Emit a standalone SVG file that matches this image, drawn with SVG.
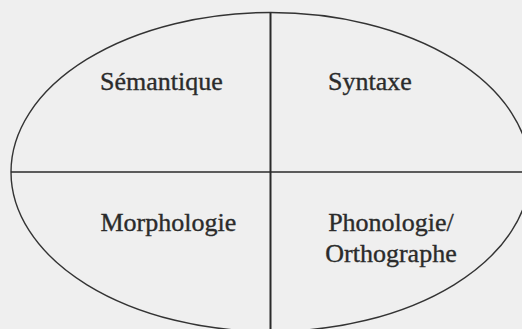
<svg xmlns="http://www.w3.org/2000/svg" width="522" height="329" viewBox="0 0 522 329">
  <style>
    .bg { fill: #efefef; }
    .outline { fill: none; stroke: #333; stroke-width: 1.4; }
    .div { stroke: #2a2a2a; fill: none; }
    .lbl { font-family: "Liberation Serif", "Times New Roman", serif; font-size: 26px; fill: #2b2b2b; stroke: #2b2b2b; stroke-width: 0.35; }
  </style>
  <rect class="bg" x="0" y="0" width="522" height="329"/>
  <g id="ellipse">
    <ellipse class="outline" cx="270.5" cy="172" rx="259.5" ry="159.5"/>
  </g>
  <g id="connectors">
    <line class="div" x1="270.5" y1="12.5" x2="270.5" y2="329" stroke-width="2"/>
    <line class="div" x1="11" y1="172" x2="522" y2="172" stroke-width="1.6"/>
  </g>
  <g id="semantique">
    <text class="lbl" x="100" y="90">Sémantique</text>
  </g>
  <g id="syntaxe">
    <text class="lbl" x="328" y="90">Syntaxe</text>
  </g>
  <g id="morphologie">
    <text class="lbl" x="100.5" y="231">Morphologie</text>
  </g>
  <g id="phonologie">
    <text class="lbl" x="391" y="231" text-anchor="middle">Phonologie/</text>
    <text class="lbl" x="391" y="262" text-anchor="middle">Orthographe</text>
  </g>
</svg>
